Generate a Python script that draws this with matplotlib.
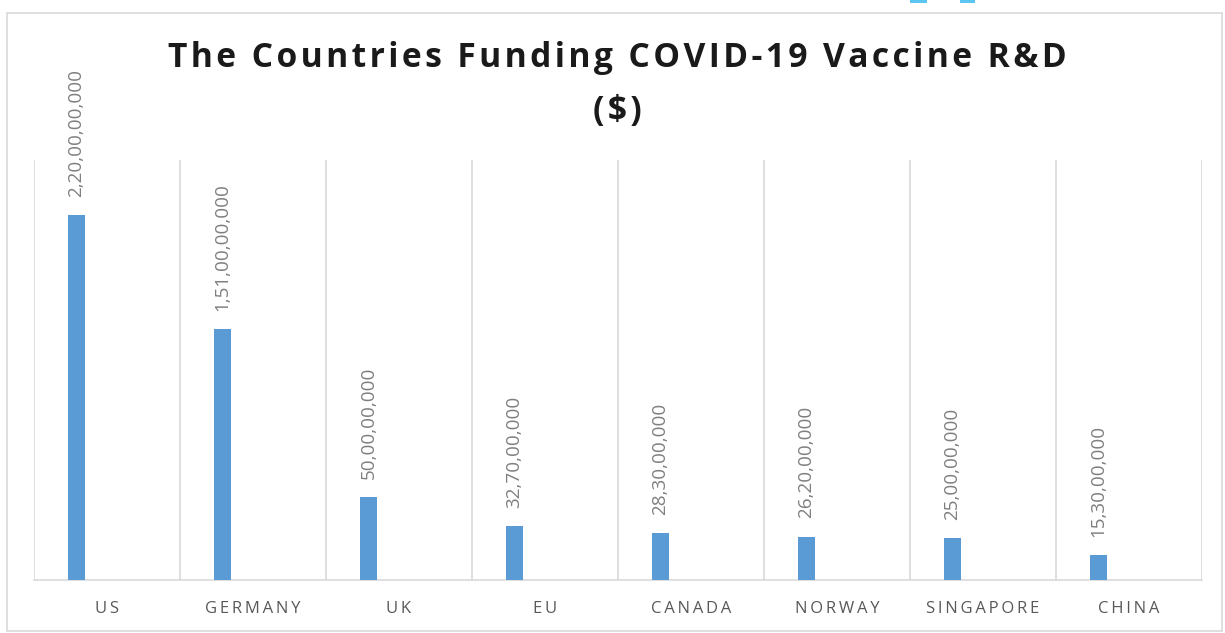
import matplotlib
matplotlib.use('Agg')

import matplotlib.pyplot as plt
from matplotlib.patches import Rectangle

# data
countries = ['US', 'GERMANY', 'UK', 'EU', 'CANADA', 'NORWAY', 'SINGAPORE', 'CHINA']
funding = [2200000000, 1510000000, 500000000, 327000000,
           283000000, 262000000, 250000000, 153000000]
value_labels = ['2,20,00,00,000', '1,51,00,00,000', '50,00,00,000', '32,70,00,000',
                '28,30,00,000', '26,20,00,000', '25,00,00,000', '15,30,00,000']
title_line1 = 'The Countries Funding COVID-19 Vaccine R&D'
title_line2 = '($)'

HAIR = '\u200a'
fonts = ['Open Sans', 'DejaVu Sans']

W, H = 1225, 633
fig = plt.figure(figsize=(W / 100, H / 100), dpi=100)

# outer frame of the chart box
fig.patches.append(Rectangle((7 / W, 1 - 631 / H), 1215 / W, 618 / H,
                             transform=fig.transFigure, fill=False,
                             edgecolor='#d9d9d9', linewidth=1.2))
# bits of a blue ui element cut off at the top edge
for x0, w in [(910, 17), (960, 15)]:
    fig.patches.append(Rectangle((x0 / W, 1 - 3 / H), w / W, 3 / H,
                                 transform=fig.transFigure, color='#5cc6f2', lw=0))

ax = fig.add_axes([34 / W, 1 - 580 / H, 1168 / W, 420 / H])

xs = [i - 0.21 for i in range(len(countries))]
ax.bar(xs, funding, width=0.113, color='#5b9bd5', zorder=3)

for x, v, lab in zip(xs, funding, value_labels):
    ax.annotate(lab, (x, v), xytext=(0, 13), textcoords='offset points',
                rotation=90, ha='center', va='bottom', fontsize=13.6,
                color='#7f7f7f', family=fonts)

# vertical separators between categories
for b in range(len(countries) + 1):
    ax.axvline(b - 0.5, color='#d9d9d9', lw=1.2, zorder=1)

ax.set_xlim(-0.5, len(countries) - 0.5)
ax.set_ylim(0, 2.53e9)

for s in ['top', 'right', 'left']:
    ax.spines[s].set_visible(False)
ax.spines['bottom'].set_color('#d9d9d9')
ax.spines['bottom'].set_linewidth(1.2)
ax.set_yticks([])

ax.set_xticks(range(len(countries)))
ax.set_xticklabels(['\u2009'.join(c) for c in countries],
                   fontsize=12, color='#595959', family=fonts)
ax.tick_params(axis='x', length=0, pad=15)

fig.text(617 / W, 1 - 67 / H, HAIR.join(title_line1), ha='center', va='baseline',
         fontsize=24.2, fontweight='bold', color='#1a1a1a', family=fonts)
fig.text(617 / W, 1 - 120 / H, HAIR.join(title_line2), ha='center', va='baseline',
         fontsize=24.2, fontweight='bold', color='#1a1a1a', family=fonts)

fig.savefig('out.png', dpi=100)
